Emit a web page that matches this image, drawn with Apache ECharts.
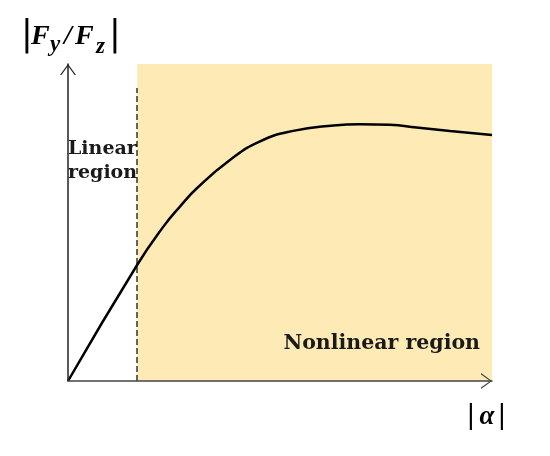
<!DOCTYPE html>
<html>
<head>
<meta charset="utf-8">
<script src="https://cdn.jsdelivr.net/npm/echarts@6/dist/echarts.min.js"></script>
<style>html,body{margin:0;padding:0;background:#fff;}#c{width:550px;height:456px;}</style>
</head>
<body>
<div id="c"></div>
<script>
// |alpha| (0-100 arbitrary units) and |Fy/Fz| (0-100 arbitrary units)
var alphaVals = [0, 16.3, 22.5, 26.4, 30.4, 38.2, 45.3, 53.1, 62.6, 68.9, 75.9, 82.2, 90.1, 100];
var ratioVals = [0, 36.6, 48.7, 55.0, 60.8, 69.7, 75.6, 78.9, 80.6, 81.0, 80.8, 80.0, 78.9, 77.6];
var linearLimit = 16.3;     // boundary between linear and nonlinear region
var dashTop = 92.4;         // top of the dashed boundary line
var axisMax = [100, 100];
var regionLabels = ['Linear\nregion', 'Nonlinear region'];

var chart = echarts.init(document.getElementById('c'));
var arrow = 'path://M0,11 L8,0 L16,11 L14.6,11 L8,1.9 L1.4,11 Z';
var serifBI = '"Liberation Serif", "DejaVu Serif", serif';
var textCol = '#1a1a1a';

chart.setOption({
  animation: false,
  grid: {left: 68, right: 58, top: 64, bottom: 75, containLabel: false},
  xAxis: {
    type: 'value', min: 0, max: axisMax[0], z: 10,
    axisLine: {show: true, lineStyle: {color: '#444', width: 1.5}, symbol: ['none', arrow], symbolSize: [16, 11], symbolOffset: [0, -5.5]},
    axisTick: {show: false}, axisLabel: {show: false}, splitLine: {show: false}
  },
  yAxis: {
    type: 'value', min: 0, max: axisMax[1], z: 10,
    axisLine: {show: true, lineStyle: {color: '#222', width: 1.5}, symbol: ['none', arrow], symbolSize: [16, 11], symbolOffset: [0, -5.5]},
    axisTick: {show: false}, axisLabel: {show: false}, splitLine: {show: false}
  },
  series: [{
    type: 'line',
    data: alphaVals.map(function (a, i) { return [a, ratioVals[i]]; }),
    smooth: 0.5,
    showSymbol: false,
    lineStyle: {color: '#000', width: 2.5},
    z: 5,
    markArea: {
      silent: true,
      itemStyle: {color: '#FEEAB4'},
      data: [[{xAxis: linearLimit}, {xAxis: axisMax[0]}]]
    },
    markLine: {
      silent: true,
      symbol: ['none', 'none'],
      label: {show: false},
      lineStyle: {color: '#333', width: 1.5, type: [6, 3]},
      data: [[{coord: [linearLimit, 0]}, {coord: [linearLimit, dashTop]}]]
    }
  }],
  graphic: [
    {type: 'text', x: 68, y: 137, z: 10, style: {text: regionLabels[0], font: 'bold 19px "DejaVu Serif"', fill: textCol, lineHeight: 24}},
    {type: 'text', x: 480, y: 344, z: 10, style: {text: regionLabels[1], font: 'bold 20.5px "DejaVu Serif"', fill: textCol, align: 'right', verticalAlign: 'middle'}},
    // |Fy/Fz|
    {type: 'text', x: 27, y: 36, style: {text: '|', font: '35px "DejaVu Sans"', fill: '#000', align: 'center', verticalAlign: 'middle'}},
    {type: 'text', x: 31, y: 37, style: {text: 'F', font: 'italic bold 28px ' + serifBI, fill: '#000', verticalAlign: 'middle'}},
    {type: 'text', x: 50, y: 45, style: {text: 'y', font: 'italic bold 23px ' + serifBI, fill: '#000', verticalAlign: 'middle'}},
    {type: 'text', x: 64, y: 37, style: {text: '/', font: 'italic bold 28px ' + serifBI, fill: '#000', verticalAlign: 'middle'}},
    {type: 'text', x: 75, y: 37, style: {text: 'F', font: 'italic bold 28px ' + serifBI, fill: '#000', verticalAlign: 'middle'}},
    {type: 'text', x: 96, y: 47, style: {text: 'z', font: 'italic bold 23px ' + serifBI, fill: '#000', verticalAlign: 'middle'}},
    {type: 'text', x: 115, y: 36, style: {text: '|', font: '35px "DejaVu Sans"', fill: '#000', align: 'center', verticalAlign: 'middle'}},
    // |alpha|
    {type: 'text', x: 471, y: 416, style: {text: '|', font: '26px "DejaVu Sans"', fill: '#000', align: 'center', verticalAlign: 'middle'}},
    {type: 'text', x: 487, y: 417, style: {text: 'α', font: 'italic bold 27px ' + serifBI, fill: '#000', align: 'center', verticalAlign: 'middle'}},
    {type: 'text', x: 502, y: 416, style: {text: '|', font: '26px "DejaVu Sans"', fill: '#000', align: 'center', verticalAlign: 'middle'}}
  ]
});
</script>
</body>
</html>
